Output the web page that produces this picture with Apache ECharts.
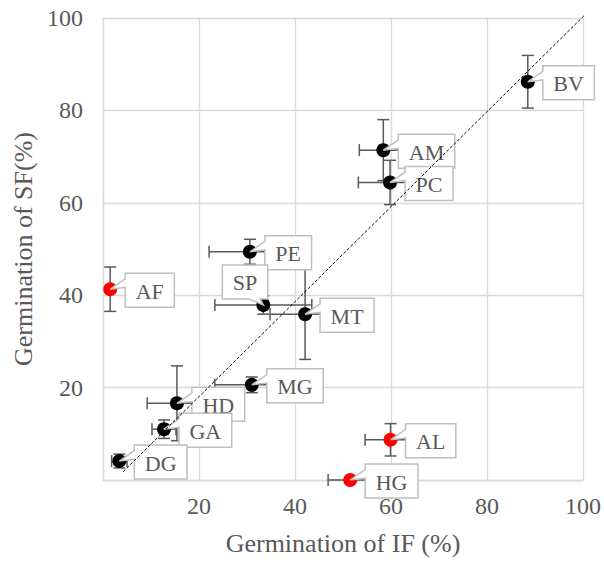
<!DOCTYPE html>
<html><head><meta charset="utf-8">
<script src="https://cdn.jsdelivr.net/npm/echarts@6/dist/echarts.min.js"></script>
<style>html,body{margin:0;padding:0;background:#fff}#c{width:604px;height:563px}</style>
</head><body><div id="c"></div>
<script>
// ---- data ----
const names    = ['BV','AM','PC','PE','SP','AF','MT','MG','HD','GA','DG','AL','HG'];
const ifValues = [88.5, 58.4, 59.8, 30.6, 33.4, 1.5, 42.1, 31.0, 15.4, 12.7, 3.4, 59.9, 51.5];
const sfValues = [86.2, 71.4, 64.4, 49.4, 37.9, 41.3, 35.9, 20.6, 16.6, 11.0, 4.1, 8.7, 0.0];
const ifErrors = [0.0, 5.0, 6.6, 8.5, 10.1, 0.0, 7.3, 7.7, 6.2, 2.5, 1.6, 5.3, 4.6];
const sfErrors = [5.7, 6.6, 4.8, 2.7, 2.0, 4.8, 9.8, 1.7, 8.1, 2.0, 1.5, 3.5, 0.0];
const outliers = ['AF','AL','HG'];
const xTickLabels = ['', '20', '40', '60', '80', '100'];
const yTickLabels = ['', '20', '40', '60', '80', '100'];
const refLineIF = [4.2, 100.6];
const refLineSF = [1.8, 100.9];

// ---- layout / style ----
const FONT = 'Liberation Serif, Times New Roman, serif';
const TEXT = '#595959';
const GRIDC = '#d9d9d9';
const calloutOffsets = { SP: [-41, -40] };
const defaultOffset = [15, -16];
const boxH = 34;

const ctx = document.createElement('canvas').getContext('2d');
ctx.font = '22px "Liberation Serif"';
function textW(t){ return ctx.measureText(t).width; }

const errData = names.map((n,i)=>[ifValues[i], sfValues[i], ifErrors[i], sfErrors[i]]);
const normalPts = [], redPts = [];
names.forEach((n,i)=>{ (outliers.includes(n)?redPts:normalPts).push([ifValues[i], sfValues[i], n]); });
const calloutData = names.map((n,i)=>[ifValues[i], sfValues[i], i]);

function wedge(x0,y0,w,h,tx,ty){
  const hc=x0+w/2, vc=y0+h/2, dxPos=tx-hc, dyPos=ty-vc;
  const dq=dxPos*h/w, dz=Math.abs(dyPos)-Math.abs(dq);
  const xg1=dxPos>0?7:2, xg2=dxPos>0?10:5, yg1=dyPos>0?7:2, yg2=dyPos>0?10:5;
  const T=[tx,ty];
  if(dz>0){
    const a=x0+w*xg1/12, b=x0+w*xg2/12;
    if(dyPos<0) return [[x0,y0],[a,y0],T,[b,y0],[x0+w,y0],[x0+w,y0+h],[x0,y0+h]];
    return [[x0,y0],[x0+w,y0],[x0+w,y0+h],[b,y0+h],T,[a,y0+h],[x0,y0+h]];
  } else {
    const a=y0+h*yg1/12, b=y0+h*yg2/12;
    if(dxPos<0) return [[x0,y0],[x0+w,y0],[x0+w,y0+h],[x0,y0+h],[x0,b],T,[x0,a]];
    return [[x0,y0],[x0+w,y0],[x0+w,a],T,[x0+w,b],[x0+w,y0+h],[x0,y0+h]];
  }
}

const chart = echarts.init(document.getElementById('c'), null, {renderer:'svg'});
const axisCommon = {
  type:'value', min:0, max:100, interval:20,
  axisLine:{show:true, lineStyle:{color:GRIDC, width:1.3}},
  axisTick:{show:false},
  splitLine:{show:true, lineStyle:{color:GRIDC, width:1.3}},
  nameLocation:'middle',
  nameTextStyle:{fontFamily:FONT, fontSize:26, color:TEXT}
};
chart.setOption({
  animation:false,
  grid:{left:103, right:21, top:18, bottom:83},
  xAxis:Object.assign({}, axisCommon, {
    name:'Germination of IF (%)', nameGap:50,
    axisLabel:{fontFamily:FONT, fontSize:24, color:TEXT, margin:14,
      formatter:(v)=>xTickLabels[Math.round(v/20)]}
  }),
  yAxis:Object.assign({}, axisCommon, {
    name:'Germination of SF(%)', nameGap:62,
    axisLabel:{fontFamily:FONT, fontSize:24, color:TEXT, margin:20,
      formatter:(v)=>yTickLabels[Math.round(v/20)]}
  }),
  series:[
    { type:'custom', z:2, data:errData, encode:{x:0,y:1}, clip:false,
      renderItem:(params, api)=>{
        const x=api.value(0), y=api.value(1), ex=api.value(2), ey=api.value(3);
        const c=6, children=[];
        const st={stroke:'#595959', lineWidth:1.5};
        if(ex>0){
          const l=api.coord([x-ex,y]), r=api.coord([x+ex,y]);
          children.push({type:'line', shape:{x1:l[0],y1:l[1],x2:r[0],y2:r[1]}, style:st});
          children.push({type:'line', shape:{x1:l[0],y1:l[1]-c,x2:l[0],y2:l[1]+c}, style:st});
          children.push({type:'line', shape:{x1:r[0],y1:r[1]-c,x2:r[0],y2:r[1]+c}, style:st});
        }
        if(ey>0){
          const t=api.coord([x,y+ey]), b=api.coord([x,y-ey]);
          children.push({type:'line', shape:{x1:t[0],y1:t[1],x2:b[0],y2:b[1]}, style:st});
          children.push({type:'line', shape:{x1:t[0]-c,y1:t[1],x2:t[0]+c,y2:t[1]}, style:st});
          children.push({type:'line', shape:{x1:b[0]-c,y1:b[1],x2:b[0]+c,y2:b[1]}, style:st});
        }
        return {type:'group', children};
      }
    },
    { type:'scatter', z:3, data:normalPts, symbolSize:14, itemStyle:{color:'#000', opacity:1}, clip:false },
    { type:'scatter', z:3, data:redPts, symbolSize:14, itemStyle:{color:'#ff0000', opacity:1}, clip:false },
    { type:'custom', z:4, data:calloutData, encode:{x:0,y:1}, clip:false,
      renderItem:(params, api)=>{
        const i=api.value(2), n=names[i];
        const p=api.coord([api.value(0), api.value(1)]);
        const off=calloutOffsets[n]||defaultOffset;
        const w=textW(n)+21, x0=p[0]+off[0], y0=p[1]+off[1];
        return {type:'group', children:[
          {type:'polygon', shape:{points:wedge(x0,y0,w,boxH,p[0],p[1])},
           style:{fill:'#fff', stroke:'#bfbfbf', lineWidth:1.5}},
          {type:'text', x:x0+w/2, y:y0+boxH/2+1,
           style:{text:n, fontFamily:FONT, fontSize:22, fill:TEXT, align:'center', verticalAlign:'middle'}}
        ]};
      }
    },
    { type:'line', z:5, clip:false, symbol:'none', silent:true,
      data:refLineIF.map((x,i)=>[x, refLineSF[i]]),
      lineStyle:{color:'#000', width:1, type:[3,2]} }
  ]
});
</script>
</body></html>
